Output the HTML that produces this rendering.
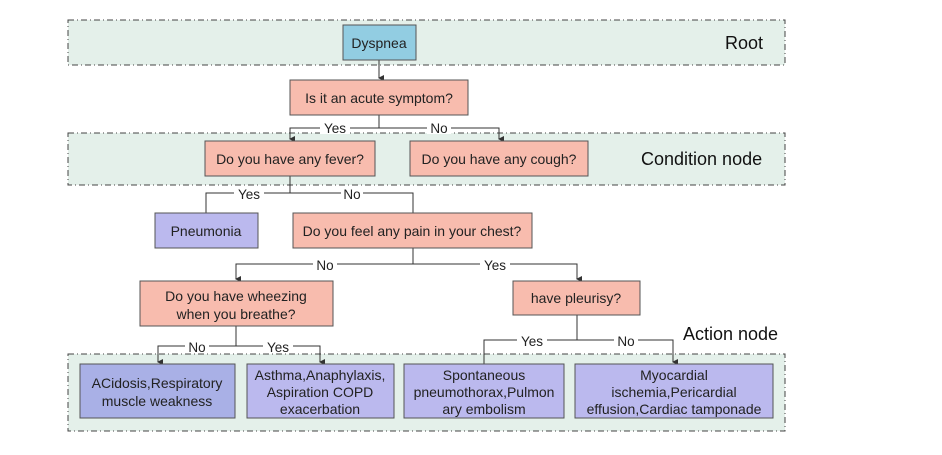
<!DOCTYPE html>
<html><head><style>
body{margin:0;background:#fff;}
svg text{font-family:"Liberation Sans",sans-serif;}
</style></head><body>
<svg width="942" height="450" xmlns="http://www.w3.org/2000/svg">
<defs><marker id="a" markerWidth="6" markerHeight="6" refX="3" refY="5" orient="auto-start-reverse" markerUnits="userSpaceOnUse"><path d="M0,0 L6,0 L3,6 z" fill="#333"/></marker></defs>
<g fill="#e4f0ea" stroke="#444" stroke-width="1" stroke-dasharray="6,3,1,3">
<rect x="68" y="20" width="717" height="45"/>
<rect x="68" y="133" width="717" height="52"/>
<rect x="68" y="354" width="717" height="77"/>
</g>
<g font-size="18" fill="#111">
<text x="725" y="49">Root</text>
<text x="641" y="165">Condition node</text>
<text x="683" y="340">Action node</text>
</g>
<g fill="none" stroke="#333" stroke-width="1">
<path d="M379,60 V78" marker-end="url(#a)"/>
<path d="M379,115 V128 H290 V139" marker-end="url(#a)"/>
<path d="M379,128 H499 V139" marker-end="url(#a)"/>
<path d="M290,176 V193 H206 V213"/>
<path d="M290,193 H413 V213"/>
<path d="M413,248 V264 H236 V279" marker-end="url(#a)"/>
<path d="M413,264 H577 V279" marker-end="url(#a)"/>
<path d="M236,326 V346 H158 V362" marker-end="url(#a)"/>
<path d="M236,346 H320 V362" marker-end="url(#a)"/>
<path d="M577,315 V340 H484 V364"/>
<path d="M577,340 H673 V362" marker-end="url(#a)"/>
</g>
<g font-size="13.5" fill="#222" text-anchor="middle">
<rect x="320" y="120" width="30" height="14" fill="#fff"/><text x="335" y="133">Yes</text>
<rect x="427" y="120" width="24" height="14" fill="#fff"/><text x="439" y="133">No</text>
<rect x="234" y="186" width="30" height="14" fill="#fff"/><text x="249" y="199">Yes</text>
<rect x="341" y="186" width="22" height="14" fill="#fff"/><text x="352" y="199">No</text>
<rect x="313" y="257" width="24" height="14" fill="#fff"/><text x="325" y="270">No</text>
<rect x="480" y="257" width="30" height="14" fill="#fff"/><text x="495" y="270">Yes</text>
<rect x="185" y="339" width="24" height="14" fill="#fff"/><text x="197" y="352">No</text>
<rect x="263" y="339" width="30" height="14" fill="#fff"/><text x="278" y="352">Yes</text>
<rect x="517" y="333" width="30" height="14" fill="#fff"/><text x="532" y="346">Yes</text>
<rect x="614" y="333" width="24" height="14" fill="#fff"/><text x="626" y="346">No</text>
</g>
<g stroke="#555" stroke-width="1">
<rect x="343" y="25" width="73" height="35" fill="#92cde2"/>
<rect x="290" y="80" width="178" height="35" fill="#f8bcae"/>
<rect x="205" y="141" width="170" height="35" fill="#f8bcae"/>
<rect x="410" y="141" width="178" height="35" fill="#f8bcae"/>
<rect x="155" y="213" width="103" height="35" fill="#bbb9ee"/>
<rect x="293" y="213" width="239" height="35" fill="#f8bcae"/>
<rect x="140" y="281" width="193" height="45" fill="#f8bcae"/>
<rect x="513" y="281" width="127" height="34" fill="#f8bcae"/>
<rect x="80" y="364" width="155" height="54" fill="#a9b0e6"/>
<rect x="247" y="364" width="147" height="54" fill="#bbb9ee"/>
<rect x="404" y="364" width="160" height="54" fill="#bbb9ee"/>
<rect x="575" y="364" width="198" height="54" fill="#bbb9ee"/>
</g>
<g font-size="14" fill="#222" text-anchor="middle">
<text x="379" y="48">Dyspnea</text>
<text x="379" y="103">Is it an acute symptom?</text>
<text x="290" y="164">Do you have any fever?</text>
<text x="499" y="164">Do you have any cough?</text>
<text x="206" y="236">Pneumonia</text>
<text x="412" y="236">Do you feel any pain in your chest?</text>
<text x="236" y="301">Do you have wheezing</text>
<text x="236" y="319">when you breathe?</text>
<text x="576" y="303">have pleurisy?</text>
<text x="157" y="388">ACidosis,Respiratory</text>
<text x="157" y="406">muscle weakness</text>
<text x="320" y="380">Asthma,Anaphylaxis,</text>
<text x="320" y="397">Aspiration COPD</text>
<text x="320" y="414">exacerbation</text>
<text x="484" y="380">Spontaneous</text>
<text x="484" y="397">pneumothorax,Pulmon</text>
<text x="484" y="414">ary embolism</text>
<text x="674" y="380">Myocardial</text>
<text x="674" y="397">ischemia,Pericardial</text>
<text x="674" y="414">effusion,Cardiac tamponade</text>
</g>
</svg>
</body></html>
